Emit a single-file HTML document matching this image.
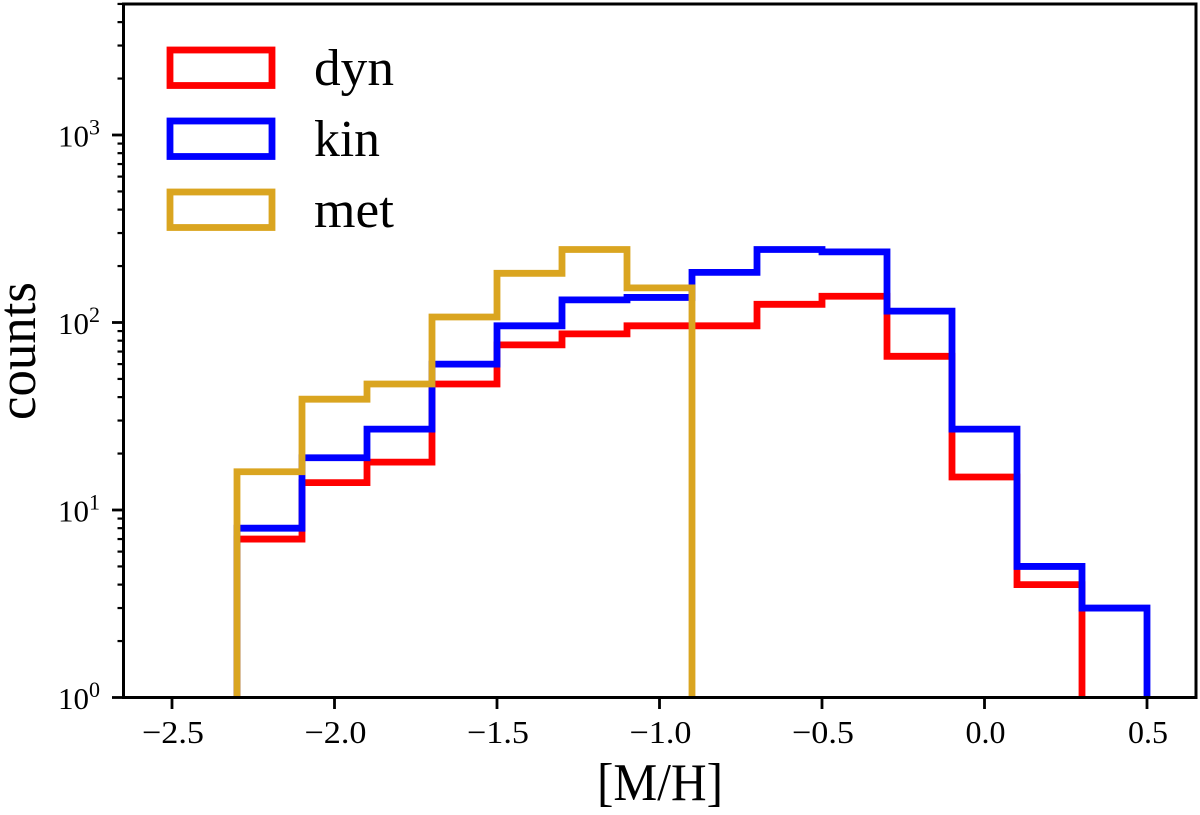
<!DOCTYPE html>
<html lang="en">
<head>
<meta charset="utf-8">
<title>[M/H] histogram</title>
<style>
html,body{margin:0;padding:0;background:#fff;width:1200px;height:815px;overflow:hidden}
svg{display:block}
text{font-family:"Liberation Serif",serif;fill:#000}
</style>
</head>
<body>
<svg id="chart" xmlns="http://www.w3.org/2000/svg" width="1200" height="815" viewBox="0 0 1200 815">
  <defs><clipPath id="plot-clip"><rect x="123.5" y="4" width="1072.5" height="693.5"/></clipPath></defs>
  <g id="series" clip-path="url(#plot-clip)"></g>
  <g id="axes"></g>
  <g id="legend"></g>
  <text transform="translate(35,351) rotate(-90)" text-anchor="middle" font-size="54" textLength="138" lengthAdjust="spacingAndGlyphs">counts</text>
  <text x="660" y="800" text-anchor="middle" font-size="53" textLength="126" lengthAdjust="spacingAndGlyphs">[M/H]</text>
</svg>
<script>
const binStart = -2.3;
const binWidth = 0.2;
const seriesNames = ['dyn', 'kin', 'met'];
const seriesColors = ['#ff0000', '#0000ff', '#daa520'];
const dynCounts = [7, 14, 18, 47, 76, 87, 96, 96, 125, 138, 66, 15, 4];
const kinCounts = [8, 19, 27, 60, 96, 132, 136, 185, 245, 238, 115, 27, 5, 3];
const metCounts = [16, 39, 47, 107, 183, 245, 153];
const xTicks = [-2.5, -2.0, -1.5, -1.0, -0.5, 0.0, 0.5];
const xTickLabels = ['\u22122.5', '\u22122.0', '\u22121.5', '\u22121.0', '\u22120.5', '0.0', '0.5'];
const yTickExponents = [0, 1, 2, 3];
const yMinorBases = [2, 3, 4, 5, 6, 7, 8, 9];

const xScale = v => 172 + (v + 2.5) * 325;
const yScale = c => 697.5 - Math.log10(c) * 187.5;
const NS = 'http://www.w3.org/2000/svg';
const make = (parent, tag, attrs) => {
  const el = document.createElementNS(NS, tag);
  for (const k in attrs) el.setAttribute(k, attrs[k]);
  parent.appendChild(el);
  return el;
};

const seriesGroup = document.getElementById('series');
const axesGroup = document.getElementById('axes');
const legendGroup = document.getElementById('legend');

[dynCounts, kinCounts, metCounts].forEach((counts, s) => {
  let d = 'M' + xScale(binStart) + ' 720';
  counts.forEach((c, i) => {
    const y = yScale(c);
    d += ' L' + xScale(binStart + i * binWidth) + ' ' + y;
    d += ' L' + xScale(binStart + (i + 1) * binWidth) + ' ' + y;
  });
  d += ' L' + xScale(binStart + counts.length * binWidth) + ' 720';
  const path = make(seriesGroup, 'path', {d: d, fill: 'none', stroke: seriesColors[s], 'stroke-width': 6.8, 'stroke-linejoin': 'miter'});
  
  
});

xTicks.forEach((v, i) => {
  const x = xScale(v);
  const tick = make(axesGroup, 'line', {x1: x, x2: x, y1: 697.5, y2: 709, stroke: '#000', 'stroke-width': 2.8});
  
  
  const label = make(axesGroup, 'text', {x: x + 1, y: 743, 'text-anchor': 'middle', 'font-size': 32, textLength: xTickLabels[i].length > 3 ? 62 : 40, lengthAdjust: 'spacingAndGlyphs'});
  label.textContent = xTickLabels[i];
  
  
});

yTickExponents.forEach(e => {
  const y = yScale(Math.pow(10, e));
  const tick = make(axesGroup, 'line', {x1: 112, x2: 123.5, y1: y, y2: y, stroke: '#000', 'stroke-width': 2.8});
  
  
  const label = make(axesGroup, 'text', {x: 58, y: y + 11.5, 'font-size': 31});
  
  
  label.appendChild(document.createTextNode('10'));
  const sup = make(label, 'tspan', {dy: -12, 'font-size': 22});
  sup.textContent = String(e);
  yMinorBases.forEach(b => {
    const value = b * Math.pow(10, e);
    if (yScale(value) < 3) return;
    const my = yScale(value);
    const minor = make(axesGroup, 'line', {x1: 117.5, x2: 123.5, y1: my, y2: my, stroke: '#000', 'stroke-width': 2.2});
    
    
  });
});

const frame = make(axesGroup, 'rect', {x: 123.5, y: 4, width: 1072.5, height: 693.5, fill: 'none', stroke: '#000', 'stroke-width': 3});



seriesNames.forEach((name, i) => {
  const top = 50 + i * 71;
  const swatch = make(legendGroup, 'rect', {x: 170, y: top, width: 102, height: 35.5, fill: 'none', stroke: seriesColors[i], 'stroke-width': 6.8});
  
  
  const label = make(legendGroup, 'text', {x: 314, y: top + 35, 'font-size': 52, textLength: name === 'kin' ? 66 : 80, lengthAdjust: 'spacingAndGlyphs'});
  label.textContent = name;
  
  
});
</script>
</body>
</html>
